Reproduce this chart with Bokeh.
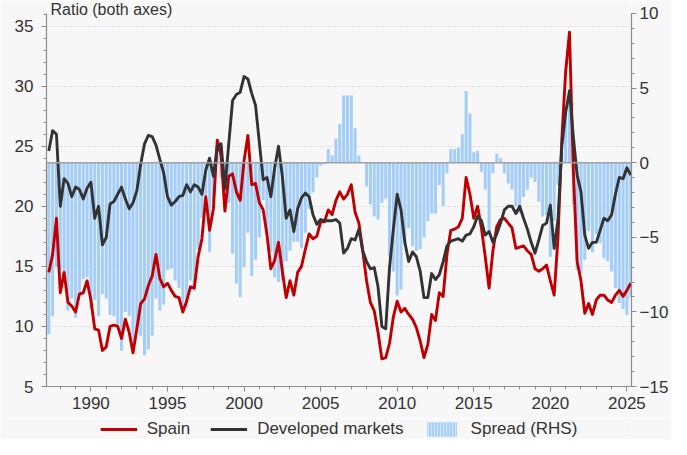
from bokeh.plotting import figure
from bokeh.layouts import column
from bokeh.models import (Range1d, LinearAxis, FixedTicker, Legend, LegendItem,
                          Span, Label, ColumnDataSource)
from bokeh.embed import file_html
from bokeh.resources import INLINE

# ---------------- data (quarterly) ----------------
start_year = 1987.25
step = 0.25

spain = [
    14.5, 16.0, 19.0,                # 1987
    12.8, 14.5, 12.0, 11.7,          # 1988
    11.2, 12.7, 12.8, 13.8,          # 1989
    12.2, 9.8, 9.7, 8.0,             # 1990
    8.3, 10.0, 10.1, 10.0,           # 1991
    9.0, 10.6, 9.5, 7.8,             # 1992
    9.8, 11.9, 12.3, 13.4,           # 1993
    14.2, 16.0, 14.0, 13.3,          # 1994
    13.6, 13.0, 12.5, 12.4,          # 1995
    11.2, 12.1, 13.3, 13.2,          # 1996
    15.8, 17.3, 20.8, 18.0,          # 1997
    19.8, 25.5, 24.2, 19.6,          # 1998
    22.5, 22.7, 21.2, 20.5,          # 1999
    23.8, 25.9, 21.8, 21.9,          # 2000
    20.3, 19.7, 17.6, 14.8,          # 2001
    15.5, 17.0, 14.6, 12.4,          # 2002
    13.8, 12.6, 14.5, 15.0,          # 2003
    16.4, 17.7, 17.3, 17.5,          # 2004
    18.7, 18.7, 19.7, 19.3,          # 2005
    20.5, 21.2, 20.6, 21.0,          # 2006
    21.8, 19.5, 18.6, 16.3,          # 2007
    13.8, 12.0, 11.3, 9.5,           # 2008
    7.3, 7.4, 8.6, 10.8,             # 2009
    12.1, 11.2, 11.5, 11.0,          # 2010
    10.6, 9.9, 8.8, 7.4,             # 2011
    8.5, 11.0, 10.5, 12.8,           # 2012
    12.5, 16.0, 18.0, 18.1,          # 2013
    18.3, 19.0, 22.4, 21.0,          # 2014
    19.0, 20.0, 18.2, 15.8,          # 2015
    13.2, 16.3, 18.3, 18.9,          # 2016
    19.0, 18.6, 18.2, 16.5,          # 2017
    16.6, 16.7, 16.3, 16.0,          # 2018
    14.8, 14.6, 14.8, 15.1,          # 2019
    13.8, 12.6, 17.4, 25.6,          # 2020
    31.2, 34.5, 23.0, 15.4,          # 2021
    13.8, 11.1, 11.9, 11.0,          # 2022
    12.2, 12.6, 12.6, 12.2,          # 2023
    12.0, 12.6, 13.0, 12.5,          # 2024
    13.0, 13.6,                      # 2025
]

developed = [
    24.6, 26.3, 26.0,                # 1987
    20.0, 22.3, 21.9, 20.8,          # 1988
    21.6, 21.4, 20.6, 21.5,          # 1989
    22.0, 19.0, 20.0, 16.8,          # 1990
    17.4, 20.2, 20.4, 21.0,          # 1991
    21.6, 20.6, 19.8, 20.3,          # 1992
    21.3, 23.5, 25.2, 25.9,          # 1993
    25.8, 25.1, 23.9, 22.8,          # 1994
    20.8, 20.1, 20.4, 20.8,          # 1995
    20.9, 21.8, 21.2, 21.8,          # 1996
    21.6, 21.0, 23.0, 24.0,          # 1997
    22.5, 25.0, 25.2, 21.5,          # 1998
    25.2, 28.8, 29.3, 29.5,          # 1999
    30.8, 30.6, 29.4, 28.4,          # 2000
    25.3, 22.2, 22.4, 20.8,          # 2001
    23.2, 25.0, 22.5, 19.0,          # 2002
    19.7, 17.9, 19.8, 20.7,          # 2003
    21.1, 20.8, 19.3, 18.5,          # 2004
    18.9, 18.8, 18.8, 18.8,          # 2005
    18.9, 18.6, 16.1, 16.5,          # 2006
    17.3, 17.2, 18.1, 16.3,          # 2007
    15.4, 14.8, 14.9, 13.3,          # 2008
    10.0, 9.8, 14.9, 18.1,           # 2009
    21.0, 19.7, 17.0, 15.4,          # 2010
    16.2, 15.8, 14.6, 12.4,          # 2011
    12.4, 14.4, 13.9, 14.3,          # 2012
    15.4, 16.7, 17.1, 17.2,          # 2013
    17.3, 17.1, 17.6, 17.7,          # 2014
    18.3, 19.2, 18.8, 17.6,          # 2015
    17.9, 17.0, 17.7, 18.6,          # 2016
    19.7, 20.0, 20.0, 19.4,          # 2017
    20.0, 19.0, 18.1, 17.0,          # 2018
    16.1, 17.2, 18.4, 18.6,          # 2019
    20.1, 16.5, 18.9, 25.0,          # 2020
    27.8, 29.6, 25.8, 22.6,          # 2021
    21.2, 17.6, 16.5, 17.0,          # 2022
    17.0, 18.0, 19.0, 18.8,          # 2023
    19.3, 21.0, 22.4, 22.3,          # 2024
    23.2, 22.6,                      # 2025
]

spread = [
    -11.5, -10.3, -7.0,              # 1987
    -7.2, -7.8, -9.9, -9.1,          # 1988
    -10.4, -8.7, -7.8, -7.7,         # 1989
    -9.8, -9.2, -10.3, -8.8,         # 1990
    -9.1, -10.2, -10.3, -11.0,       # 1991
    -12.6, -10.0, -10.3, -12.5,      # 1992
    -11.5, -11.6, -12.9, -12.5,      # 1993
    -11.6, -9.1, -9.9, -9.5,         # 1994
    -7.2, -7.1, -7.9, -8.4,          # 1995
    -9.7, -9.7, -7.9, -8.6,          # 1996
    -5.8, -3.7, -2.2, -6.0,          # 1997
    -2.7, 0.5, -1.0, -1.9,           # 1998
    -2.7, -6.1, -8.1, -9.0,          # 1999
    -7.0, -4.7, -7.6, -6.5,          # 2000
    -5.0, -2.5, -4.8, -6.0,          # 2001
    -7.7, -8.0, -7.9, -6.6,          # 2002
    -5.9, -5.3, -5.3, -5.7,          # 2003
    -4.7, -3.1, -2.0, -1.0,          # 2004
    -0.2, -0.1, 0.9, 0.5,            # 2005
    1.6, 2.6, 4.5, 4.5,              # 2006
    4.5, 2.3, 0.5, 0.0,              # 2007
    -1.6, -2.8, -3.6, -3.8,          # 2008
    -2.7, -2.4, -6.3, -7.3,          # 2009
    -8.9, -8.5, -5.5, -4.4,          # 2010
    -5.6, -5.9, -5.8, -5.0,          # 2011
    -3.9, -3.4, -3.4, -1.5,          # 2012
    -2.9, -0.7, 0.9, 0.9,            # 2013
    1.0, 1.9, 4.8, 3.3,              # 2014
    0.7, 0.8, -0.6, -1.8,            # 2015
    -4.7, -0.7, 0.6, 0.3,            # 2016
    -0.7, -1.4, -1.8, -2.9,          # 2017
    -3.4, -2.3, -1.8, -1.0,          # 2018
    -1.3, -2.6, -3.6, -3.5,          # 2019
    -6.3, -3.9, -1.5, 0.6,           # 2020
    3.4, 4.9, -2.8, -7.2,            # 2021
    -7.4, -6.5, -4.6, -6.0,          # 2022
    -4.8, -5.4, -6.4, -6.6,          # 2023
    -7.3, -8.4, -9.4, -9.8,          # 2024
    -10.2, -9.0,                     # 2025
]

dates = [start_year + step * i for i in range(len(spain))]

x_ticks = [1990, 1995, 2000, 2005, 2010, 2015, 2020, 2025]
x_minor = list(range(1988, 2026))
left_ticks = [5, 10, 15, 20, 25, 30, 35]
left_minor = list(range(5, 37))
right_ticks = [-15, -10, -5, 0, 5, 10]
right_minor = list(range(-15, 11))

title_text = "Ratio (both axes)"
labels = ["Spain", "Developed markets", "Spread (RHS)"]

# ---------------- styling ----------------
BG = "#f7f7f7"
RED = "#c00000"
DARK = "#333333"
BLUE = "#a4cef8"
AXIS = "#8c8c8c"
TXT = "#333333"
FONT = "Liberation Sans"
FS = "17px"
W = 671
H_MAIN = 418
H_LEG = 21

src = ColumnDataSource(dict(t=dates, spain=spain, dm=developed, spread=spread))

# the frame reaches the canvas top; the axes are bounded to 5..36.05 / -15..10
p = figure(width=W, height=H_MAIN, output_backend="svg", toolbar_location=None,
           x_range=Range1d(1987.1, 2025.3), y_range=Range1d(5, 37.13),
           min_border_left=46, min_border_right=37, min_border_top=0,
           min_border_bottom=32, background_fill_color=BG,
           border_fill_color=BG, outline_line_color=None)
p.extra_y_ranges = {"rhs": Range1d(-15, 10.87)}

# grid
p.xgrid.visible = False
p.ygrid.grid_line_color = "#c8c8c8"
p.ygrid.grid_line_dash = "1 2"
p.ygrid.grid_line_width = 1

# axes
def style_axis(ax):
    ax.axis_line_color = AXIS
    ax.axis_line_width = 1.2
    ax.major_tick_line_color = AXIS
    ax.minor_tick_line_color = AXIS
    ax.major_tick_in = 0
    ax.minor_tick_in = 0
    ax.major_tick_out = 5
    ax.minor_tick_out = 3
    ax.major_label_text_font = FONT
    ax.major_label_text_font_size = FS
    ax.major_label_text_color = TXT

p.xaxis.ticker = FixedTicker(ticks=x_ticks, minor_ticks=x_minor)
p.yaxis.ticker = FixedTicker(ticks=left_ticks, minor_ticks=left_minor)
style_axis(p.xaxis[0])
style_axis(p.yaxis[0])
p.xaxis.major_label_standoff = 5
p.yaxis.major_label_standoff = 8
p.yaxis.bounds = (5, 36.05)

rax = LinearAxis(y_range_name="rhs", bounds=(-15, 10),
                 ticker=FixedTicker(ticks=right_ticks, minor_ticks=right_minor))
style_axis(rax)
rax.major_label_standoff = 3
p.add_layout(rax, "right")

# spread bars (RHS) - slightly narrower than the period, giving fine stripes
bars = p.vbar(x="t", top="spread", bottom=0, width=step * 0.8, source=src,
              y_range_name="rhs", fill_color=BLUE, line_color=None)

zero = Span(location=0, dimension="width", y_range_name="rhs",
            line_color="#a0a0a0", line_width=1.5)
p.add_layout(zero)

# lines
l_sp = p.line("t", "spain", source=src, line_color=RED, line_width=2.9,
              line_join="round")
l_dm = p.line("t", "dm", source=src, line_color=DARK, line_width=2.9,
              line_join="round")

title = Label(x=1987.36, y=37.06, text=title_text, text_font=FONT,
              text_font_size="16px", text_color=TXT, text_baseline="top")
p.add_layout(title)

# ---------------- legend strip ----------------
lg = figure(width=W, height=H_LEG, output_backend="svg", toolbar_location=None,
            x_range=Range1d(0, 1), y_range=Range1d(0, 1),
            x_axis_location=None, y_axis_location=None,
            min_border=0, background_fill_color=BG, border_fill_color=BG,
            outline_line_color=None)
lg.grid.visible = False
# legend proxies (their data lie outside this strip's ranges, so only the
# legend glyphs are drawn)
k_sp = lg.line(x=dates[:2], y=spain[:2], line_color=RED, line_width=2.9)
k_dm = lg.line(x=dates[:2], y=developed[:2], line_color=DARK, line_width=2.9)
k_br = lg.vbar(x=dates[:1], top=spread[:1], width=step, fill_color=BLUE,
               line_color=None, hatch_pattern="vertical_line",
               hatch_color="#d8eafc", hatch_scale=3, hatch_weight=1)

legend = Legend(items=[LegendItem(label=labels[0], renderers=[k_sp]),
                       LegendItem(label=labels[1], renderers=[k_dm]),
                       LegendItem(label=labels[2], renderers=[k_br])],
                location="center", orientation="horizontal",
                glyph_width=37, glyph_height=18, label_standoff=10,
                spacing=20, padding=0, margin=0,
                label_text_font=FONT, label_text_font_size=FS,
                label_text_color=TXT, background_fill_alpha=0,
                border_line_color=None)
lg.add_layout(legend)

page = column(p, lg, spacing=0)
open("out.html", "w").write(file_html(page, INLINE))
